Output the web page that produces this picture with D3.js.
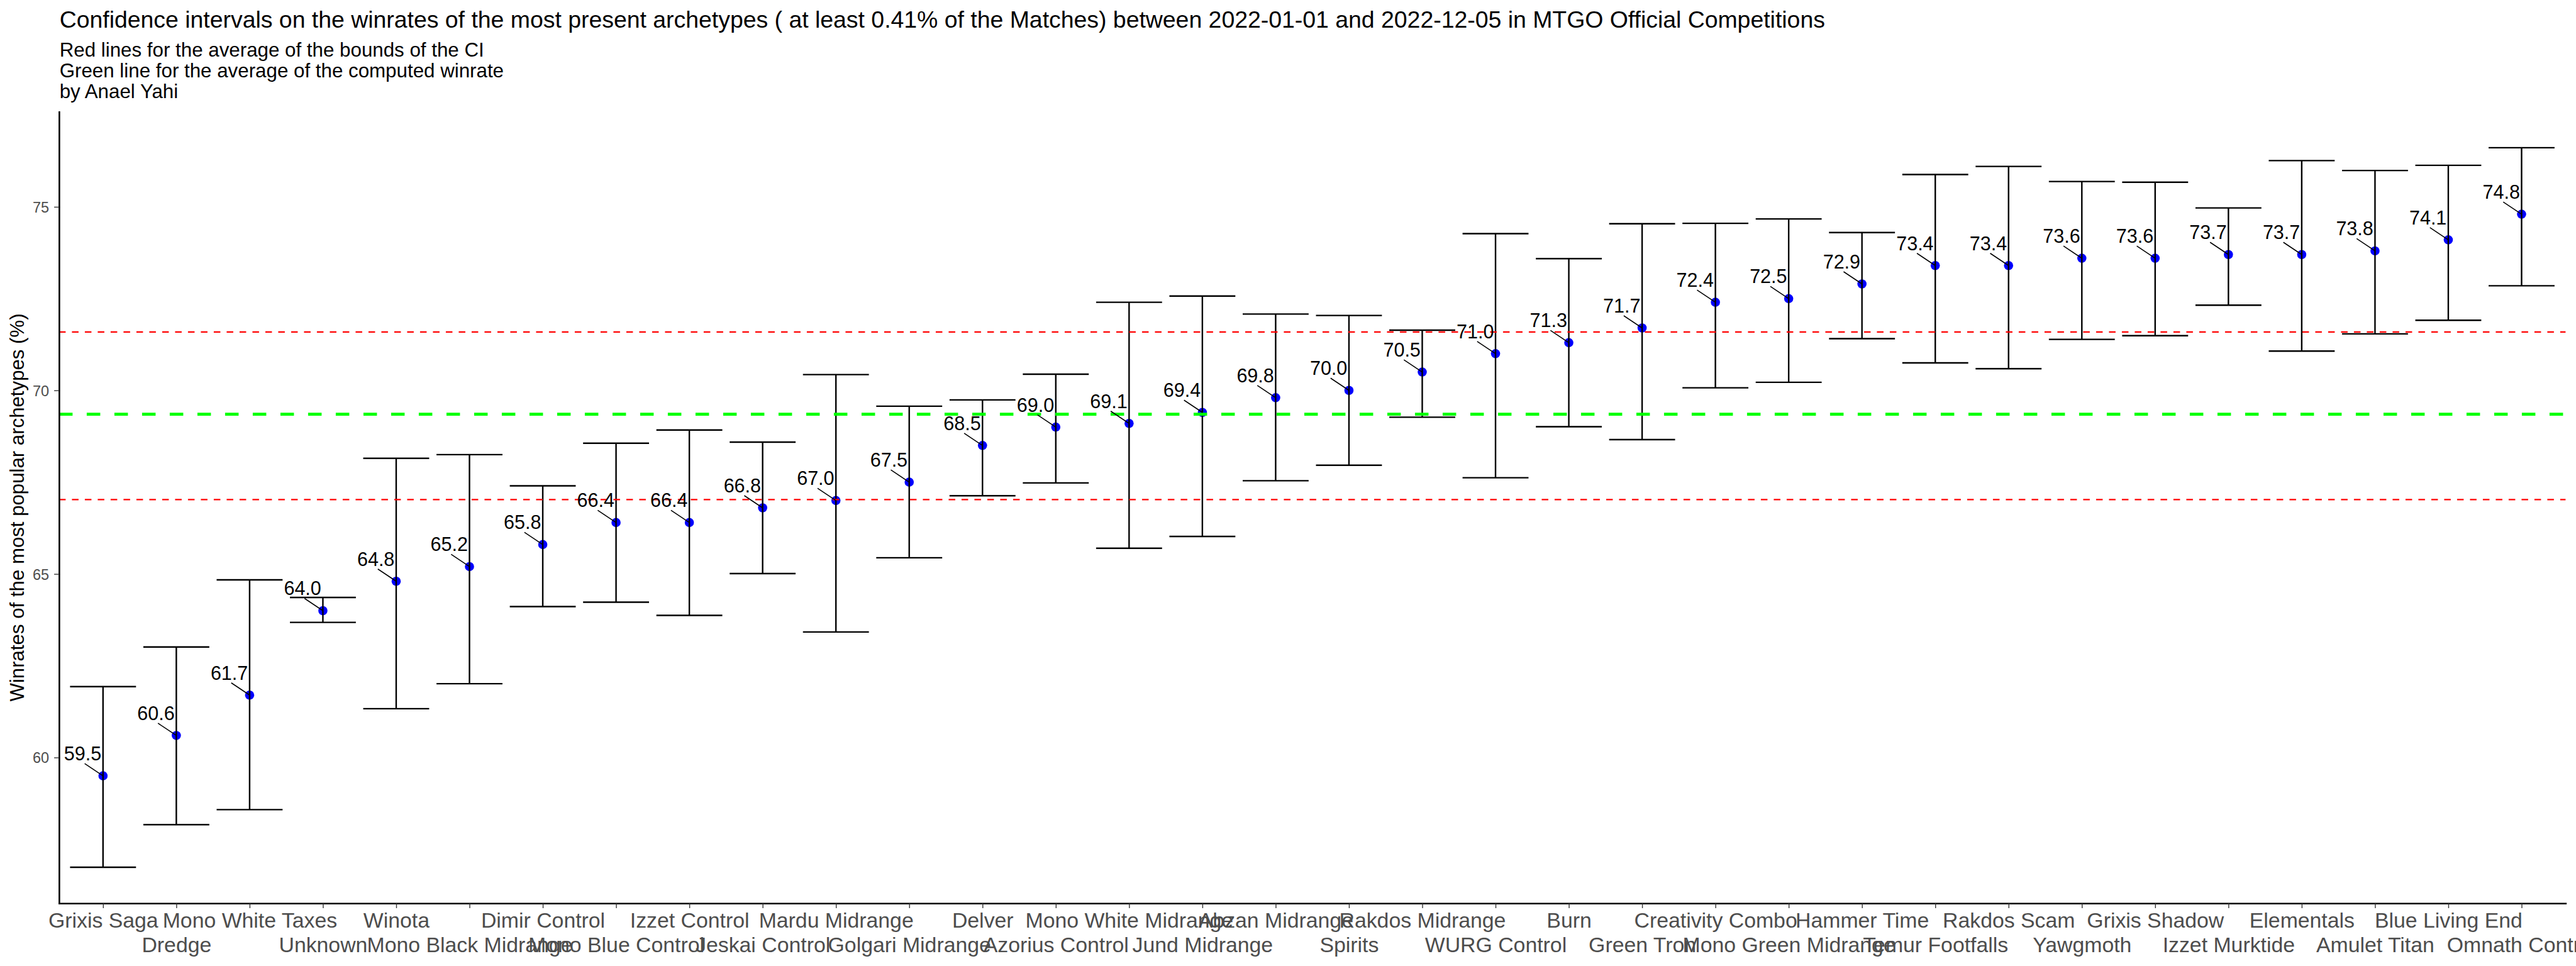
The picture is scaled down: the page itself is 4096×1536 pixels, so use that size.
<!DOCTYPE html>
<html><head><meta charset="utf-8">
<script src="https://cdn.jsdelivr.net/npm/d3@7"></script>
<style>
body{margin:0;background:#fff;}
svg{display:block;font-family:"Liberation Sans",Arial,sans-serif;}
</style>
</head><body>
<svg id="chart" width="4096" height="1536"></svg>
<script>
// ---------------- data ----------------
const categories = ["Grixis Saga","Dredge","Mono White Taxes","Unknown","Winota","Mono Black Midrange",
  "Dimir Control","Mono Blue Control","Izzet Control","Jeskai Control","Mardu Midrange","Golgari Midrange",
  "Delver","Azorius Control","Mono White Midrange","Jund Midrange","Abzan Midrange","Spirits",
  "Rakdos Midrange","WURG Control","Burn","Green Tron","Creativity Combo","Mono Green Midrange",
  "Hammer Time","Temur Footfalls","Rakdos Scam","Yawgmoth","Grixis Shadow","Izzet Murktide",
  "Elementals","Amulet Titan","Blue Living End","Omnath Control"];
const winrate = [59.5,60.6,61.7,64.0,64.8,65.2,65.8,66.4,66.4,66.8,67.0,67.5,68.5,69.0,69.1,69.4,69.8,70.0,
  70.5,71.0,71.3,71.7,72.4,72.5,72.9,73.4,73.4,73.6,73.6,73.7,73.7,73.8,74.1,74.8];
const lowerCI = [57.01,58.17,58.58,63.68,61.33,62.01,64.11,64.23,63.87,65.01,63.42,65.44,67.13,67.48,65.70,66.02,
  67.54,67.96,69.27,67.62,69.01,68.66,70.07,70.22,71.41,70.75,70.59,71.39,71.49,72.32,71.07,71.54,71.91,72.85];
const upperCI = [61.93,63.01,64.84,64.36,68.15,68.25,67.40,68.56,68.92,68.59,70.43,69.57,69.74,70.44,72.40,72.57,
  72.08,72.04,71.64,74.27,73.59,74.54,74.55,74.67,74.30,75.88,76.10,75.69,75.67,74.97,76.26,75.99,76.13,76.61];
const yTicks = [60,65,70,75];
const titleText = "Confidence intervals on the winrates of the most present archetypes ( at least 0.41% of the Matches) between 2022-01-01 and 2022-12-05 in MTGO Official Competitions";
const subtitleLines = ["Red lines for the average of the bounds of the CI",
  "Green line for the average of the computed winrate","by Anael Yahi"];
const yAxisTitle = "Winrates of the most popular archetypes (%)";

// ---------------- layout ----------------
const FONT = '"Liberation Sans",Arial,sans-serif';
const panel = {left:93.9, right:4079.4, top:177.7, bottom:1436.2};
const svg = d3.select("#chart");
svg.append("rect").attr("width",4096).attr("height",1536).attr("fill","#fff");

const x = d3.scalePoint().domain(categories).range([panel.left, panel.right]).padding(0.6);
const lo = d3.min(lowerCI), hi = d3.max(upperCI), pad = (hi - lo) * 0.05;
const y = d3.scaleLinear().domain([lo - pad, hi + pad]).range([panel.bottom, panel.top]);
const data = categories.map((c,i)=>({c, w:winrate[i], l:lowerCI[i], u:upperCI[i]}));

// points
svg.append("g").selectAll("circle").data(data).join("circle")
  .attr("cx", d=>x(d.c)).attr("cy", d=>y(d.w)).attr("r", 7.3).attr("fill", "#0000FF");

// error bars
const half = x.step()*0.45;
const eb = svg.append("g").attr("stroke","#000").attr("stroke-width",2.4).attr("fill","none");
eb.selectAll("path").data(data).join("path")
  .attr("d", d=>{
    const cx=x(d.c), yu=y(d.u), yl=y(d.l);
    return `M${cx-half},${yu}H${cx+half}M${cx},${yu}V${yl}M${cx-half},${yl}H${cx+half}`;
  });

// reference lines
const refLines = [
  {v:d3.mean(upperCI), color:"#FF0000", w:2.2, dash:"10.5,10"},
  {v:d3.mean(lowerCI), color:"#FF0000", w:2.2, dash:"10.5,10"},
  {v:d3.mean(winrate), color:"#00FF00", w:4.8, dash:"21.5,22.5"}
];
svg.append("g").selectAll("line").data(refLines).join("line")
  .attr("x1", panel.left).attr("x2", panel.right)
  .attr("y1", d=>y(d.v)).attr("y2", d=>y(d.v))
  .attr("stroke", d=>d.color).attr("stroke-width", d=>d.w).attr("stroke-dasharray", d=>d.dash);

// labels with segments
const lab = svg.append("g");
lab.selectAll("line").data(data).join("line")
  .attr("x1", d=>x(d.c)-29.2).attr("y1", d=>y(d.w)-19.5)
  .attr("x2", d=>x(d.c)).attr("y2", d=>y(d.w))
  .attr("stroke","#000").attr("stroke-width",1.6);
lab.selectAll("text").data(data).join("text")
  .attr("x", d=>x(d.c)-32.3).attr("y", d=>y(d.w)-24.6)
  .attr("text-anchor","middle").attr("font-family",FONT).attr("font-size",30.5).attr("fill","#000")
  .text(d=>d3.format(".1f")(d.w));

// x axis
const gx = svg.append("g").attr("transform",`translate(0,${panel.bottom})`)
  .call(d3.axisBottom(x).tickSize(7.8).tickSizeOuter(0));
gx.attr("font-size",null).attr("font-family",null);
gx.select(".domain").attr("stroke","#000").attr("stroke-width",2.6).attr("stroke-linecap","square");
gx.selectAll(".tick line").attr("stroke","#333").attr("stroke-width",1.4);
gx.selectAll(".tick text").attr("dy",null)
  .attr("y",(d,i)=> i%2===0 ? 39.2 : 77.7)
  .attr("font-family",FONT).attr("font-size",33.8).attr("fill","#4D4D4D");

// y axis
const gy = svg.append("g").attr("transform",`translate(${panel.left},0)`)
  .call(d3.axisLeft(y).tickValues(yTicks).tickSize(7.8).tickPadding(8).tickSizeOuter(0));
gy.attr("font-size",null).attr("font-family",null);
gy.select(".domain").attr("stroke","#000").attr("stroke-width",2.6).attr("stroke-linecap","square");
gy.selectAll(".tick line").attr("stroke","#333").attr("stroke-width",1.4);
gy.selectAll(".tick text").attr("dy","0.36em")
  .attr("font-family",FONT).attr("font-size",23.5).attr("fill","#4D4D4D");

// y title
svg.append("text")
  .attr("transform",`translate(38.4,${(panel.top+panel.bottom)/2}) rotate(-90)`)
  .attr("text-anchor","middle").attr("font-family",FONT).attr("font-size",31.2).attr("fill","#000")
  .text(yAxisTitle);

// title / subtitle
svg.append("text").attr("x",panel.left+0.8).attr("y",43.5)
  .attr("font-family",FONT).attr("font-size",37.4).attr("fill","#000").text(titleText);
svg.append("g").selectAll("text").data(subtitleLines).join("text")
  .attr("x",panel.left+0.8).attr("y",(d,i)=>89.6+i*33.2)
  .attr("font-family",FONT).attr("font-size",31.3).attr("fill","#000").text(d=>d);
</script>
</body></html>
